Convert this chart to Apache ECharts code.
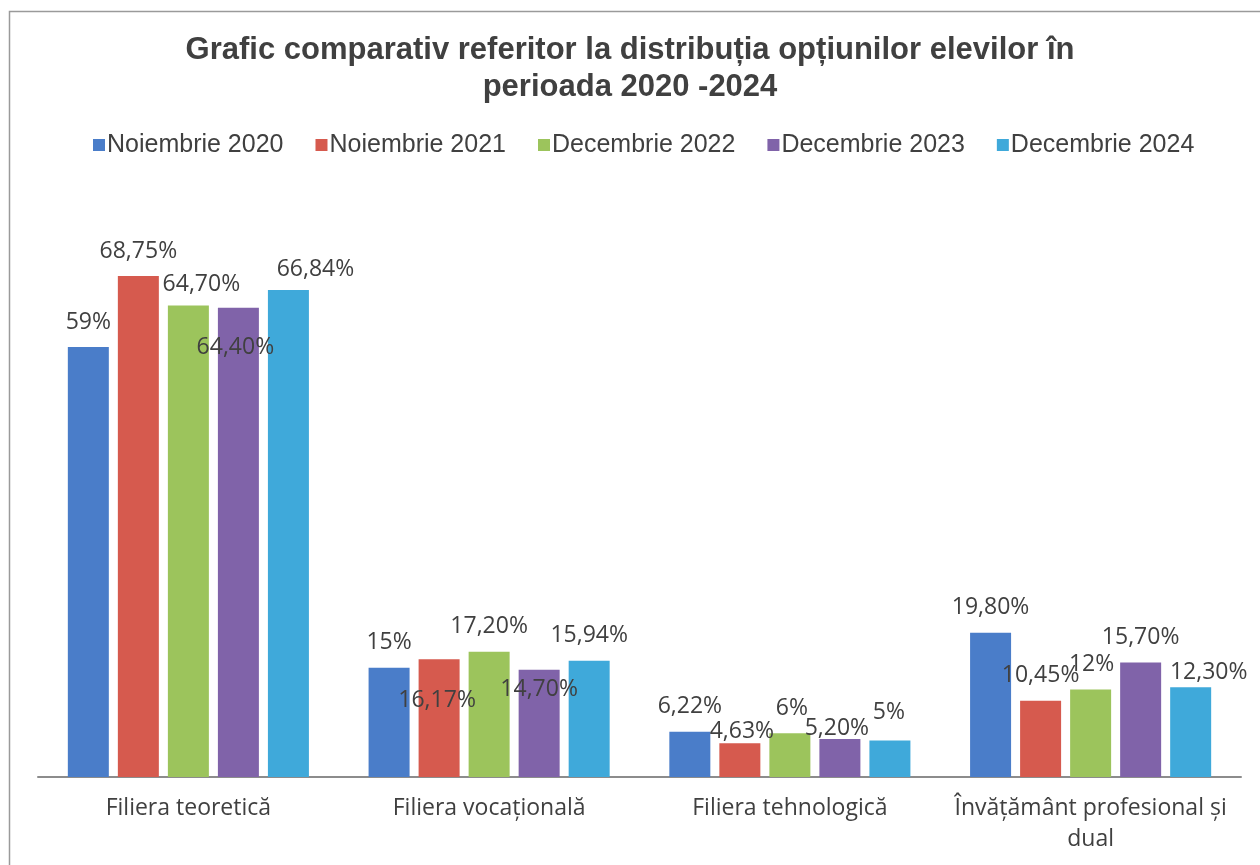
<!DOCTYPE html>
<html>
<head>
<meta charset="utf-8">
<script src="https://cdn.jsdelivr.net/npm/echarts@6/dist/echarts.min.js"></script>
<style>
html,body{margin:0;padding:0;background:#fff;}
#chart{width:1260px;height:865px;}
</style>
</head>
<body>
<div id="chart"></div>
<script>
// ---- data ----
const categories = ['Filiera teoretică', 'Filiera vocațională', 'Filiera tehnologică', 'Învățământ profesional și dual'];
const seriesNames = ['Noiembrie 2020', 'Noiembrie 2021', 'Decembrie 2022', 'Decembrie 2023', 'Decembrie 2024'];
const nov2020 = [59, 15, 6.22, 19.8];
const nov2021 = [68.75, 16.17, 4.63, 10.45];
const dec2022 = [64.7, 17.2, 6, 12];
const dec2023 = [64.4, 14.7, 5.2, 15.7];
const dec2024 = [66.84, 15.94, 5, 12.3];
const seriesValues = [nov2020, nov2021, dec2022, dec2023, dec2024];

// ---- styles ----
const colors = ['#4A7DC9', '#D65A4E', '#9CC45C', '#8063A9', '#3FA9DA'];
// label offsets [dx, dy] per series per category (reproduce label placement)
const labelOffsets = [
  [[0,0],[0,0],[0,0],[0,0]],
  [[0,0],[-2,66],[2,13],[0,0]],
  [[13,4],[0,0],[2,0],[1,0]],
  [[-3,65],[0,45],[-3,14],[0,0]],
  [[27,5],[0,0],[-1,-3],[18,10]]
];

function fmt(v){
  if (Number.isInteger(v)) return v + '%';
  return v.toFixed(2).replace('.', ',') + '%';
}
// word wrap by character count
function wrap(text, maxChars){
  const words = text.split(' ');
  const lines = [];
  let cur = '';
  words.forEach(w => {
    const next = cur ? cur + ' ' + w : w;
    if (next.length > maxChars && cur) { lines.push(cur); cur = w; }
    else cur = next;
  });
  if (cur) lines.push(cur);
  return lines.join('\n');
}

const chart = echarts.init(document.getElementById('chart'));
const series = seriesNames.map((name, si) => ({
  name: name,
  type: 'bar',
  barWidth: 41,
  barGap: '22%',
  itemStyle: { color: colors[si] },
  label: {
    show: true,
    position: 'top',
    distance: 13,
    fontFamily: 'Open Sans',
    fontSize: 23,
    lineHeight: 24,
    color: '#404040',
    formatter: p => fmt(p.value)
  },
  data: seriesValues[si].map((v, ci) => ({
    value: v,
    label: { offset: labelOffsets[si][ci] }
  }))
}));

chart.setOption({
  backgroundColor: '#ffffff',
  animation: false,
  title: {
    text: 'Grafic comparativ referitor la distribuția opțiunilor elevilor în\nperioada 2020 -2024',
    left: 'center',
    top: 27,
    textStyle: {
      fontFamily: 'Liberation Sans',
      fontWeight: 'bold',
      fontSize: 31,
      lineHeight: 37,
      color: '#404040',
      align: 'center'
    }
  },
  legend: {
    data: seriesNames,
    left: 93,
    top: 132,
    padding: 0,
    icon: 'rect',
    itemWidth: 12,
    itemHeight: 12,
    itemGap: 32,
    textStyle: {
      fontFamily: 'Liberation Sans',
      fontSize: 25,
      lineHeight: 26,
      color: '#404040',
      padding: [0, 0, 0, -3]
    }
  },
  graphic: [{
    type: 'rect',
    shape: { x: 9.5, y: 11.5, width: 1300, height: 900 },
    style: { fill: 'none', stroke: '#9a9a9a', lineWidth: 1.5 },
    silent: true,
    z: -1
  }],
  grid: { left: 38, right: 19, top: 194, bottom: 88, containLabel: false },
  xAxis: {
    type: 'category',
    data: categories,
    axisTick: { show: false },
    axisLine: { lineStyle: { color: '#8c8c8c', width: 2 } },
    axisLabel: {
      fontFamily: 'Open Sans',
      fontSize: 23,
      lineHeight: 31,
      color: '#404040',
      margin: 16,
      interval: 0,
      formatter: v => wrap(v, 26)
    }
  },
  yAxis: {
    type: 'value',
    min: 0,
    max: 80,
    show: false,
    splitLine: { show: false }
  },
  series: series
});
</script>
</body>
</html>
